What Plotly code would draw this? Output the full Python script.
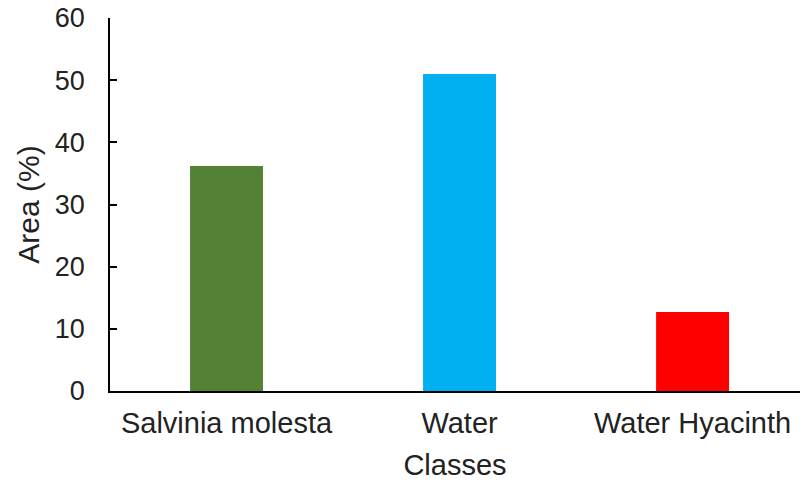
import plotly.graph_objects as go

# Share of image area per land-cover class
classes = ["Salvinia molesta", "Water", "Water Hyacinth"]
area_pct = [36.2, 51.0, 12.7]
bar_colors = ["#538135", "#00B0F0", "#FF0000"]

y_ticks = [0, 10, 20, 30, 40, 50, 60]

FONT = "Liberation Sans, Arial, sans-serif"
TEXT = "#222222"

fig = go.Figure(
    go.Bar(
        x=classes,
        y=area_pct,
        marker=dict(color=bar_colors, line=dict(width=0)),
        width=0.313,
    )
)

fig.update_layout(
    width=800,
    height=488,
    margin=dict(l=110, r=0, t=18, b=97),
    paper_bgcolor="white",
    plot_bgcolor="white",
    showlegend=False,
    font=dict(family=FONT, size=29, color=TEXT),
)

fig.update_xaxes(
    range=[-0.5, 2.461],
    showline=True,
    linecolor="#000000",
    linewidth=1.5,
    ticks="",
    showgrid=False,
    tickfont=dict(family=FONT, size=29, color=TEXT),
    ticklabelstandoff=5,
    title=dict(text="Classes", font=dict(family=FONT, size=29, color=TEXT), standoff=17),
)

fig.update_yaxes(
    range=[0, 60],
    tickvals=y_ticks,
    ticktext=[str(v) for v in y_ticks],
    showline=True,
    linecolor="#000000",
    linewidth=1.5,
    ticks="inside",
    ticklen=7,
    tickwidth=1.5,
    tickcolor="#000000",
    showgrid=False,
    zeroline=False,
    tickfont=dict(family=FONT, size=27, color=TEXT),
    ticklabelstandoff=18,
    title=dict(text="Area (%)", font=dict(family=FONT, size=30, color=TEXT), standoff=6),
)

fig.write_html("out.html")
